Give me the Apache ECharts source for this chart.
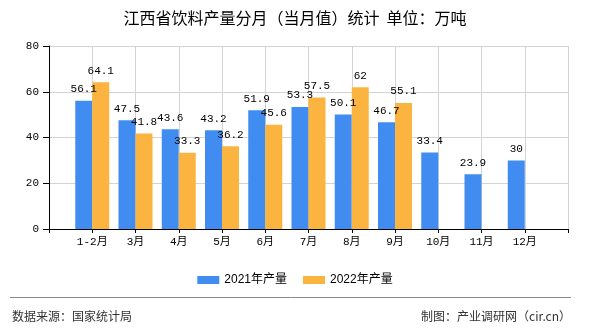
<!DOCTYPE html>
<html>
<head>
<meta charset="utf-8">
<script src="https://cdn.jsdelivr.net/npm/echarts@6/dist/echarts.min.js"></script>
<style>html,body{margin:0;padding:0;background:#fff;}#c{width:590px;height:330px;}</style>
</head>
<body>
<div id="c"></div>
<script>
const titleText = '江西省饮料产量分月（当月值）统计  单位：万吨';
const categories = ['1-2月','3月','4月','5月','6月','7月','8月','9月','10月','11月','12月'];
const series2021Name = '2021年产量';
const series2022Name = '2022年产量';
const values2021 = [56.1, 47.5, 43.6, 43.2, 51.9, 53.3, 50.1, 46.7, 33.4, 23.9, 30];
const values2022 = [64.1, 41.8, 33.3, 36.2, 45.6, 57.5, 62, 55.1];
const yTicks = [0, 20, 40, 60, 80];
const sourceText = '数据来源：国家统计局';
const creditText = '制图：产业调研网（cir.cn）';

const axisCats = [''].concat(categories, ['']);
function pad(arr) {
  const out = [null];
  for (let i = 0; i < categories.length; i++) out.push(i < arr.length ? arr[i] : null);
  out.push(null);
  return out;
}
const monoFont = "'Liberation Mono', 'Noto Sans CJK SC', monospace";
const cjkFont = "'Noto Sans CJK SC', sans-serif";

const chart = echarts.init(document.getElementById('c'), null, {renderer: 'canvas'});
const labelStyle = {
  show: true, position: 'top', distance: 6,
  color: '#000', fontFamily: monoFont, fontSize: 11
};
chart.setOption({
  animation: false,
  color: ['#418CF0', '#FCB441'],
  title: {
    text: titleText, left: 'center', top: 5,
    textStyle: {fontFamily: cjkFont, fontSize: 16, fontWeight: 'normal', color: '#000'}
  },
  legend: {
    data: [series2021Name, series2022Name],
    left: 'center', top: 269,
    icon: 'rect', itemWidth: 22, itemHeight: 8, itemGap: 16,
    textStyle: {fontFamily: "'Liberation Sans', 'Noto Sans CJK SC', sans-serif", fontSize: 12, color: '#000'}
  },
  grid: {left: 49, right: 22, top: 46, bottom: 101, containLabel: false},
  xAxis: {
    type: 'category', data: axisCats, boundaryGap: false,
    axisLine: {show: true, lineStyle: {color: '#000', width: 1}},
    axisTick: {show: true, interval: 0, length: 4, lineStyle: {color: '#000'}},
    axisLabel: {interval: 0, color: '#000', fontFamily: monoFont, fontSize: 11, margin: 8},
    splitLine: {show: true, interval: 0, lineStyle: {color: '#D3D3D3', width: 1}}
  },
  yAxis: {
    type: 'value', min: yTicks[0], max: yTicks[yTicks.length - 1], interval: yTicks[1] - yTicks[0],
    axisLine: {show: true, lineStyle: {color: '#000', width: 1}},
    axisTick: {show: true, length: 6, lineStyle: {color: '#000'}},
    axisLabel: {color: '#000', fontFamily: monoFont, fontSize: 11, margin: 10},
    splitLine: {show: true, lineStyle: {color: '#D3D3D3', width: 1}}
  },
  series: [
    {name: series2021Name, type: 'bar', data: pad(values2021), barWidth: 17, barGap: '0%', label: labelStyle},
    {name: series2022Name, type: 'bar', data: pad(values2022), barWidth: 17, barGap: '0%', label: labelStyle}
  ],
  graphic: [
    {type: 'line', shape: {x1: 10, y1: 297.5, x2: 571, y2: 297.5}, style: {stroke: '#888', lineWidth: 1}},
    {type: 'text', x: 12, y: 316, style: {text: sourceText, fill: '#333', font: "12px 'Noto Sans CJK SC'", textVerticalAlign: 'middle', verticalAlign: 'middle'}},
    {type: 'text', x: 571, y: 316, style: {text: creditText, fill: '#333', font: "12px 'Noto Sans CJK SC'", textAlign: 'right', align: 'right', textVerticalAlign: 'middle', verticalAlign: 'middle'}}
  ]
});
</script>
</body>
</html>
